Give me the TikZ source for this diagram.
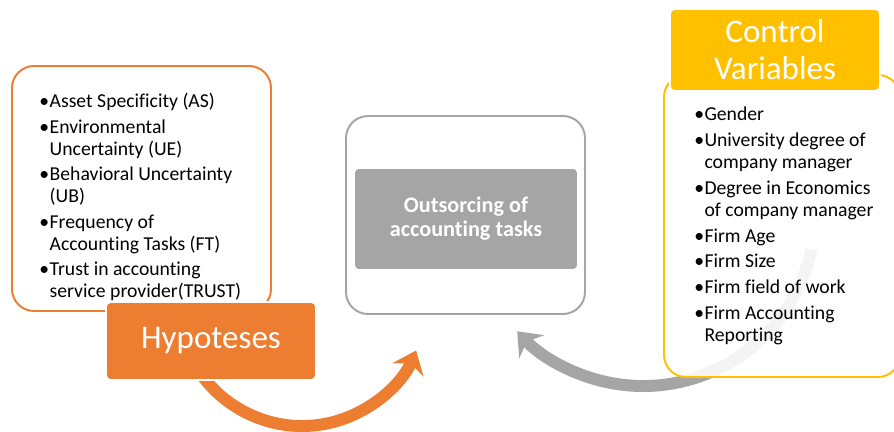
\documentclass[tikz,border=0pt]{standalone}
\usepackage{fontspec}
\setmainfont{Carlito}[Ligatures=NoCommon]
\usetikzlibrary{arrows.meta}

\definecolor{hyporange}{HTML}{ED7D31}
\definecolor{taskgray}{HTML}{A5A5A5}
\definecolor{ctrlyellow}{HTML}{FFC000}

\begin{document}
\begin{tikzpicture}[
    panel/.style={
        rectangle,
        draw,
        rounded corners=0.55cm,
        line width=1.4pt,
        fill=white
    },
    tag/.style={
        rectangle,
        rounded corners=0.12cm,
        draw=white,
        line width=1.2pt,
        text=white,
        align=center
    },
    items/.style={
        inner sep=0pt,
        anchor=north west,
        font=\fontsize{14}{15.8}\selectfont
    },
    arrow/.style={
        line width=8.5pt,
        -{Stealth[length=15pt, width=24pt, inset=5pt]}
    }
]

\clip (0,0) rectangle (22.35,-10.8);

\node[panel, draw=hyporange, minimum width=6.475cm, minimum height=6.125cm] (hyp) at (3.5375,-4.7125) {};
\node[panel, draw=taskgray, minimum width=5.975cm, minimum height=4.95cm] (task) at (11.6375,-5.375) {};

\coordinate (hypturn) at (7.55,-7.55);
\draw[arrow, hyporange] (hypturn) ++(200:3.1) arc[start angle=200, end angle=337, radius=3.1];

\node[tag, fill=hyporange, minimum width=5.25cm, minimum height=1.95cm,
      font=\fontsize{23.5}{26}\selectfont] (hyptag) at (5.275,-8.525) {Hypoteses};

\node[tag, fill=taskgray, minimum width=5.6cm, minimum height=2.55cm,
      font=\fontsize{15.8}{17}\selectfont\bfseries] (tasktag) at (11.65,-5.475) {Outsorcing of\\accounting tasks};

\coordinate (ctrlturn) at (16.075,-5.35);
\draw[arrow, taskgray] (ctrlturn) ++(-12:4.3) arc[start angle=-12, end angle=-137, radius=4.3];

\node[panel, draw=ctrlyellow, fill opacity=0.88, text opacity=1, minimum width=5.9cm, minimum height=7.55cm] (ctrl) at (19.55,-5.65) {};
\node[tag, fill=ctrlyellow, minimum width=5.25cm, minimum height=2.05cm,
      font=\fontsize{23.5}{26.3}\selectfont] (ctrltag) at (19.375,-1.25) {Control\\Variables};

\node[items] (hyplist) at (0.98,-2.3) {\begin{tabular}{@{}l@{\hspace{0.3pt}}l@{}}
\textbullet & Asset Specificity (AS)\\[2.2pt]
\textbullet & Environmental\\
 & Uncertainty (UE)\\[2.2pt]
\textbullet & Behavioral Uncertainty\\
 & (UB)\\[2.2pt]
\textbullet & Frequency of\\
 & Accounting Tasks (FT)\\[2.2pt]
\textbullet & Trust in accounting\\
 & service provider(TRUST)
\end{tabular}};

\node[items] (ctrllist) at (17.35,-2.62) {\begin{tabular}{@{}l@{\hspace{0.3pt}}l@{}}
\textbullet & Gender\\[2.5pt]
\textbullet & University degree of\\
 & company manager\\[2.5pt]
\textbullet & Degree in Economics\\
 & of company manager\\[2.5pt]
\textbullet & Firm Age\\[2.5pt]
\textbullet & Firm Size\\[2.5pt]
\textbullet & Firm field of work\\[2.5pt]
\textbullet & Firm Accounting\\
 & Reporting
\end{tabular}};

\end{tikzpicture}
\end{document}
